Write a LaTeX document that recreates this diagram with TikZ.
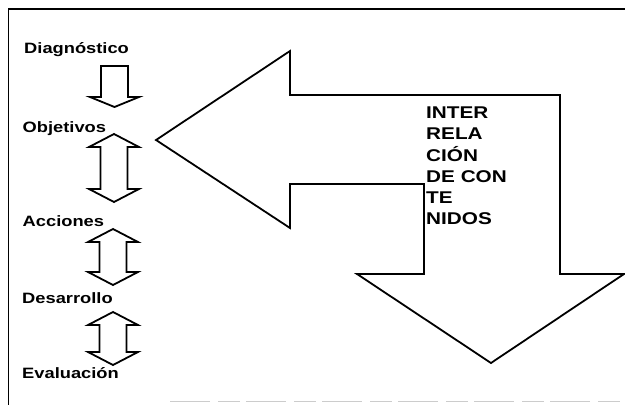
\documentclass[tikz,border=0pt]{standalone}
\usepackage{fontspec}
\setmainfont{Liberation Sans}[FakeStretch=1.22]
\begin{document}
\begin{tikzpicture}[x=1pt,y=-1pt,
  outline/.style={draw=black,line width=1.8pt,line join=miter,fill=white},
  stage/.style={anchor=base west,inner sep=0pt,font=\bfseries\fontsize{15}{18}\selectfont},
  bigtext/.style={anchor=north west,inner sep=0pt,align=left,font=\bfseries\fontsize{17}{21.3}\selectfont}]
\useasboundingbox (0,0) rectangle (625,405);
% frame
\draw[line width=1.3pt] (8.5,405) -- (8.5,9) -- (625,9);
\draw[gray!40,line width=1.2pt,dash pattern=on 40pt off 8pt on 22pt off 6pt] (170,401.5) -- (625,401.5);

% bent arrow: left head, then shaft turning down to a down head
\draw[outline] (156,140) -- (290,51) -- (290,95) -- (560,95) -- (560,274) -- (624,274)
  -- (491,363) -- (357,274) -- (424,274) -- (424,184) -- (290,184) -- (290,228) -- cycle;
\node[bigtext] (inter) at (426,106.5) {INTER\\RELA\\CIÓN\\DE CON\\TE\\NIDOS};

% stage labels
\node[stage] (diag) at (24,53) {Diagnóstico};
\node[stage] (obj) at (22.5,132) {Objetivos};
\node[stage] (acc) at (22.5,226) {Acciones};
\node[stage] (des) at (22,303) {Desarrollo};
\node[stage] (eva) at (22,378) {Evaluación};

% single down arrow
\draw[outline] (101,66) -- (128,66) -- (128,97) -- (139,97) -- (114.5,107) -- (90,97) -- (101,97) -- cycle;
% double arrows between stages (centre x, top tip, bottom tip)
\foreach \cx/\ta/\tb in {114/134/202, 113/229/285, 113/312/365}{
  \draw[outline] (\cx,\ta) -- (\cx+25,\ta+13) -- (\cx+13.5,\ta+13) -- (\cx+13.5,\tb-13) -- (\cx+25,\tb-13)
    -- (\cx,\tb) -- (\cx-25,\tb-13) -- (\cx-13.5,\tb-13) -- (\cx-13.5,\ta+13) -- (\cx-25,\ta+13) -- cycle;
}
\end{tikzpicture}
\end{document}
